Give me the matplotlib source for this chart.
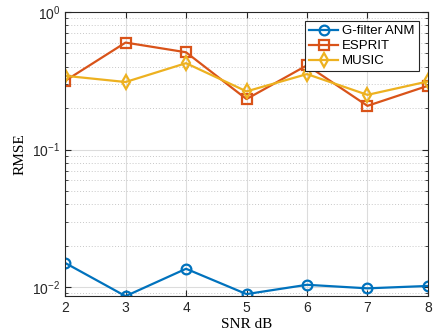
import matplotlib
matplotlib.use("Agg")
import matplotlib.pyplot as plt
from matplotlib.ticker import LogLocator, NullFormatter

snr = [2, 3, 4, 5, 6, 7, 8]
gfilter = [0.0150, 0.0086, 0.0136, 0.0089, 0.0104, 0.0098, 0.0102]
esprit = [0.316, 0.60, 0.51, 0.233, 0.41, 0.208, 0.291]
music = [0.344, 0.31, 0.425, 0.265, 0.354, 0.25, 0.313]
xticks = [2, 3, 4, 5, 6, 7, 8]

plt.rcParams['font.family'] = ['Liberation Sans', 'DejaVu Sans']
fig = plt.figure(figsize=(4.34, 3.35), dpi=100)
ax = fig.add_axes([0.150, 0.116, 0.836, 0.848])

ax.plot(snr, gfilter, '-o', color='#0072BD', lw=1.6, ms=7, mfc='none', mew=1.6, label='G-filter ANM')
ax.plot(snr, esprit, '-s', color='#D95319', lw=1.6, ms=6.5, mfc='none', mew=1.6, label='ESPRIT')
ax.plot(snr, music, '-d', color='#EDB120', lw=1.6, ms=7.5, mfc='none', mew=1.6, label='MUSIC')

ax.set_yscale('log')
ax.set_xlim(2, 8)
ax.set_ylim(0.0086, 1.0)
ax.set_xticks(xticks)
ax.yaxis.set_major_locator(LogLocator(base=10, numticks=10))
ax.yaxis.set_minor_locator(LogLocator(base=10, subs=range(2, 10), numticks=20))
ax.yaxis.set_minor_formatter(NullFormatter())
ax.grid(True, which='major', color='#dcdcdc', lw=0.8)
ax.grid(True, which='minor', axis='y', color='#c8c8c8', lw=0.7, ls=(0, (1, 2)))
ax.tick_params(which='both', direction='in', top=True, right=True, labelsize=10, colors='#262626')
ax.tick_params(which='major', length=4)
ax.tick_params(which='minor', length=2)
for s in ax.spines.values():
    s.set_color('#262626')
    s.set_linewidth(0.8)

ax.set_xlabel('SNR dB', family='Liberation Serif', fontsize=11, labelpad=2)
ax.set_ylabel('RMSE', family='Liberation Serif', fontsize=11, labelpad=4)

leg = ax.legend(loc='upper right', fontsize=9.5, fancybox=False, framealpha=1,
                edgecolor='#262626', borderpad=0.3, labelspacing=0.2, handlelength=2.2,
                handletextpad=0.3, borderaxespad=0.7)
leg.get_frame().set_linewidth(0.8)

fig.savefig('out.png', dpi=100)
